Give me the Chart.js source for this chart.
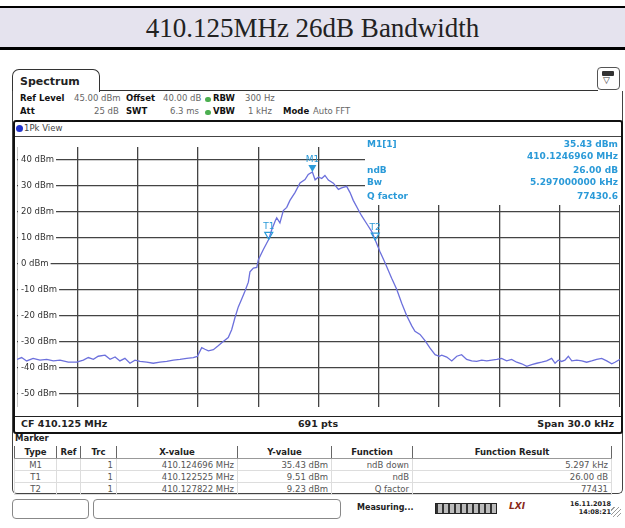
<!DOCTYPE html>
<html>
<head>
<meta charset="utf-8">
<script src="https://cdn.jsdelivr.net/npm/chart.js@4.4.0/dist/chart.umd.min.js"></script>
<style>
  body { margin: 0; width: 625px; height: 528px; background: #fff; position: relative; overflow: hidden; font-family: "DejaVu Sans", sans-serif; color: #222; }
  .abs { position: absolute; white-space: nowrap; }
  .hdr { font-size: 8.5px; color: #666; }
  .hdr b { color: #111; }
  .dot { position: absolute; width: 6px; height: 5px; border-radius: 3px; background: #4caf50; }
  #mk { position: absolute; left: 14px; top: 446px; border-collapse: collapse; font-size: 8.5px; table-layout: fixed; }
  #mk th { font-weight: bold; color: #222; height: 12px; padding: 0 3px; border-left: 1px solid #666; border-right: 1px solid #666; border-bottom: 1px solid #999; }
  #mk td { color: #555; height: 11px; padding: 0 3px; text-align: right; border: 1px solid #ddd; }
  #mk td.c { text-align: center; }
</style>
</head>
<body>
<!-- title band -->
<div class="abs" style="left:0;top:6px;width:625px;height:39px;background:#e5e3ee;border-top:2px solid #000;border-bottom:3px solid #000;"></div>
<div class="abs" style="left:0;top:8px;width:625px;text-align:center;font-family:'Liberation Serif',serif;font-size:27px;line-height:40px;">410.125MHz 26dB Bandwidth</div>

<!-- spectrum window -->
<div class="abs" style="left:12px;top:69px;width:86px;height:22px;border:1.5px solid #333;border-bottom:none;border-radius:7px 7px 0 0;"></div>
<div class="abs" style="left:20px;top:75px;font-size:11px;font-weight:bold;">Spectrum</div>
<div class="abs" style="left:99px;top:90px;width:499px;height:0;border-top:1.5px solid #333;"></div>
<div class="abs" style="left:597px;top:67px;width:21px;height:21px;border:1.5px solid #555;border-radius:4px;"></div>
<div class="abs" style="left:602px;top:71px;width:12px;height:5px;background:#333;border-radius:1px;"></div>
<div class="abs" style="left:603px;top:75px;font-size:9px;color:#333;">▽</div>
<div class="abs" style="left:12px;top:91px;width:609px;height:402px;border:1px solid #444;border-top:none;border-radius:0 0 5px 5px;"></div>

<div class="abs hdr" style="left:20px;top:93px;"><b>Ref Level</b></div>
<div class="abs hdr" style="left:74px;top:93px;">45.00 dBm</div>
<div class="abs hdr" style="left:126px;top:93px;"><b>Offset</b></div>
<div class="abs hdr" style="left:163px;top:93px;">40.00 dB</div>
<div class="dot" style="left:205px;top:97px;"></div>
<div class="abs hdr" style="left:213px;top:93px;"><b>RBW</b></div>
<div class="abs hdr" style="left:245px;top:93px;">300 Hz</div>
<div class="abs hdr" style="left:20px;top:106px;"><b>Att</b></div>
<div class="abs hdr" style="left:94px;top:106px;">25 dB</div>
<div class="abs hdr" style="left:126px;top:106px;"><b>SWT</b></div>
<div class="abs hdr" style="left:170px;top:106px;">6.3 ms</div>
<div class="dot" style="left:205px;top:110px;"></div>
<div class="abs hdr" style="left:213px;top:106px;"><b>VBW</b></div>
<div class="abs hdr" style="left:248px;top:106px;">1 kHz</div>
<div class="abs hdr" style="left:283px;top:106px;"><b>Mode</b></div>
<div class="abs hdr" style="left:313px;top:106px;">Auto FFT</div>

<!-- 1Pk View box -->
<div class="abs" style="left:13px;top:120px;width:606px;height:310px;border:2px solid #111;border-radius:3px;"></div>
<div class="abs" style="left:15px;top:136px;width:606px;height:0;border-top:1px solid #444;"></div>
<div class="abs" style="left:16px;top:125px;width:7px;height:7px;border-radius:4px;background:#2233cc;"></div>
<div class="abs hdr" style="left:24px;top:123px;color:#444;">1Pk View</div>

<div class="abs" style="left:17px;top:138px;width:603px;height:278px;">
  <canvas id="spec" width="603" height="278"></canvas>
</div>

<div class="abs" style="left:15px;top:416px;width:606px;height:0;border-top:1.5px solid #222;"></div>
<div class="abs" style="left:21px;top:418px;font-size:9.5px;font-weight:bold;">CF 410.125 MHz</div>
<div class="abs" style="left:318px;top:418px;font-size:9.5px;font-weight:bold;transform:translateX(-50%);">691 pts</div>
<div class="abs" style="right:11px;top:418px;font-size:9.5px;font-weight:bold;">Span 30.0 kHz</div>

<!-- marker table -->
<div class="abs" style="left:15px;top:433px;font-size:8.5px;font-weight:bold;">Marker</div>
<table id="mk">
  <colgroup><col style="width:42px"><col style="width:24px"><col style="width:36px"><col style="width:121px"><col style="width:94px"><col style="width:81px"><col style="width:199px"></colgroup>
  <tr><th>Type</th><th>Ref</th><th>Trc</th><th>X-value</th><th>Y-value</th><th>Function</th><th>Function Result</th></tr>
</table>

<!-- status bar -->
<div class="abs" style="left:12px;top:499px;width:75px;height:18px;border:1px solid #888;border-radius:4px;"></div>
<div class="abs" style="left:93px;top:499px;width:246px;height:18px;border:1px solid #888;border-radius:4px;"></div>
<div class="abs" style="left:357px;top:503px;font-size:8px;font-weight:bold;">Measuring...</div>
<div class="abs" style="left:435px;top:503px;width:60px;height:9px;background:repeating-linear-gradient(90deg,#333 0 2px,#bbb 2px 6px);border:1px solid #222;"></div>
<div class="abs" style="left:509px;top:501px;font-size:9px;font-weight:bold;font-style:italic;color:#8a2a1a;">LXI</div>
<div class="abs" style="right:14px;top:500px;font-size:6.5px;font-weight:bold;text-align:right;line-height:8px;">16.11.2018<br>14:08:21</div>
<div class="abs" style="left:611px;top:507px;width:10px;height:10px;background:repeating-linear-gradient(135deg,#fff 0 2px,#999 2px 3px);"></div>

<script>
// trace: offset from CF 410.125 MHz (kHz) and level (dBm)
const freqKHz = [
  -15.00, -14.77, -14.52, -14.20, -13.86, -13.52, -13.19, -12.86, -12.45, -12.03,
  -11.70, -11.45, -11.20, -10.96, -10.62, -10.37, -10.12, -9.88, -9.63, -9.38,
  -9.13, -8.88, -8.55, -8.22, -7.89, -7.55, -7.22, -6.89, -6.56, -6.23,
  -6.03, -5.81, -5.65, -5.48, -5.23, -4.99, -4.74, -4.49, -4.32, -4.15,
  -3.99, -3.82, -3.66, -3.49, -3.41, -3.24, -3.07, -2.99, -2.75, -2.475,
  -2.33, -2.16, -2.08, -1.92, -1.75, -1.58, -1.42, -1.17, -0.92, -0.67,
  -0.51, -0.304, -0.17, 0.00, 0.16, 0.32, 0.49, 0.74, 0.99, 1.15,
  1.40, 1.57, 1.73, 1.98, 2.15, 2.40, 2.65, 2.822, 3.06, 3.31,
  3.64, 3.89, 4.14, 4.39, 4.64, 4.80, 5.05, 5.30, 5.55, 5.80,
  6.01, 6.13, 6.38, 6.63, 6.88, 7.12, 7.37, 7.62, 7.87, 8.12,
  8.37, 8.62, 8.87, 9.11, 9.36, 9.61, 9.86, 10.11, 10.36, 10.61,
  10.86, 11.10, 11.35, 11.60, 11.77, 11.93, 12.10, 12.26, 12.43, 12.60,
  12.85, 13.10, 13.34, 13.59, 13.84, 14.09, 14.34, 14.59, 14.75, 15.00
];
const levelDbm = [
  -36.7, -36.0, -37.3, -36.3, -37.0, -36.7, -37.3, -37.0, -37.8, -37.8,
  -37.0, -36.0, -36.7, -35.5, -35.1, -36.7, -35.8, -37.3, -36.3, -38.2,
  -37.0, -37.5, -37.8, -38.2, -37.8, -37.5, -37.0, -36.7, -36.3, -36.0,
  -35.6, -32.2, -32.8, -33.4, -33.0, -31.5, -29.8, -28.3, -25.3, -20.5,
  -16.5, -13.5, -10.5, -7.0, -3.0, -1.6, -1.3, 1.7, 5.5, 9.51,
  13.1, 16.5, 17.8, 15.8, 20.6, 21.8, 24.5, 27.5, 31.2, 32.5,
  34.5, 35.43, 32.4, 33.5, 32.9, 34.1, 32.3, 31.1, 28.7, 29.3,
  29.9, 27.5, 24.5, 20.9, 18.5, 15.5, 12.5, 9.23, 4.7, 0.5,
  -5.5, -9.7, -15.1, -19.9, -23.8, -25.9, -27.1, -29.5, -32.4, -34.9,
  -35.5, -35.1, -35.8, -37.3, -35.5, -34.9, -36.7, -37.3, -37.5, -37.0,
  -37.3, -37.0, -36.7, -36.3, -37.3, -36.7, -37.8, -38.4, -39.4, -38.7,
  -38.2, -37.8, -37.3, -36.3, -38.2, -37.0, -37.5, -37.0, -35.5, -37.3,
  -37.0, -37.3, -37.8, -37.3, -36.7, -36.3, -37.3, -38.4, -37.8, -36.7
];
const yTicks = [40, 30, 20, 10, 0, -10, -20, -30, -40, -50];
const centerMHz = 410.125;

const markerNames = ['M1', 'T1', 'T2'];
const markerKHz = [-0.304, -2.475, 2.822];
const markerLevel = [35.43, 9.51, 9.23];
const markerFunc = ['ndB down', 'ndB', 'Q factor'];
const markerResult = ['5.297 kHz', '26.00 dB', '77431'];

const readoutLabels = ['M1[1]', '', 'ndB', 'Bw', 'Q factor'];
const readoutValues = ['35.43 dBm', '410.1246960 MHz', '26.00 dB', '5.297000000 kHz', '77430.6'];

// marker table
const tbl = document.getElementById('mk');
markerNames.forEach((name, i) => {
  const tr = document.createElement('tr');
  tr.innerHTML = `<td class="c">${name}</td><td></td><td>1</td>` +
    `<td>${(centerMHz + markerKHz[i] / 1000).toFixed(6)} MHz</td>` +
    `<td>${markerLevel[i].toFixed(2)} dBm</td><td>${markerFunc[i]}</td><td>${markerResult[i]}</td>`;
  tbl.appendChild(tr);
});

const markerBlue = '#2a9ad8';

// white readout box with marker results, top right of the diagram
const readoutPlugin = {
  id: 'readout',
  beforeDatasetsDraw(chart) {
    const ctx = chart.ctx;
    ctx.save();
    ctx.fillStyle = '#fff';
    ctx.fillRect(348, 0, 256, 67);
    ctx.fillStyle = markerBlue;
    ctx.font = 'bold 9px "DejaVu Sans"';
    ctx.textBaseline = 'middle';
    const rows = [7, 19, 33, 45, 59];
    readoutLabels.forEach((t, i) => {
      ctx.textAlign = 'left';
      ctx.fillText(t, 350, rows[i]);
      ctx.textAlign = 'right';
      ctx.fillText(readoutValues[i], 601, rows[i]);
    });
    ctx.restore();
  }
};

// marker triangles and names drawn at the trace points
const markerPlugin = {
  id: 'markers',
  afterDatasetsDraw(chart) {
    const ctx = chart.ctx;
    const xs = chart.scales.x, ys = chart.scales.y;
    ctx.save();
    markerNames.forEach((name, i) => {
      const px = xs.getPixelForValue(markerKHz[i]);
      const py = ys.getPixelForValue(markerLevel[i]);
      ctx.beginPath();
      ctx.moveTo(px - 4, py - 7);
      ctx.lineTo(px + 4, py - 7);
      ctx.lineTo(px, py);
      ctx.closePath();
      ctx.fillStyle = markerBlue;
      ctx.strokeStyle = markerBlue;
      ctx.lineWidth = 1.2;
      if (i === 0) ctx.fill(); else ctx.stroke();
      ctx.font = '9px "DejaVu Sans"';
      ctx.textAlign = 'center';
      ctx.textBaseline = 'bottom';
      ctx.fillText(name, px, py - 8);
    });
    ctx.restore();
  }
};

new Chart(document.getElementById('spec'), {
  type: 'line',
  data: {
    datasets: [{
      data: freqKHz.map((f, i) => ({ x: f, y: levelDbm[i] })),
      borderColor: '#6c70dc',
      borderWidth: 1.3,
      pointRadius: 0,
      tension: 0
    }]
  },
  options: {
    responsive: false,
    animation: false,
    layout: { padding: 0 },
    plugins: { legend: { display: false }, tooltip: { enabled: false } },
    scales: {
      x: {
        type: 'linear',
        min: -15,
        max: 15,
        ticks: { display: false, stepSize: 3 },
        grid: { color: '#444', lineWidth: 1.3, drawTicks: false },
        border: { display: false },
        afterFit: s => { s.height = 0; }
      },
      y: {
        min: -55,
        max: 45,
        afterBuildTicks: s => { s.ticks = yTicks.map(v => ({ value: v })); },
        ticks: {
          mirror: true,
          padding: 4,
          color: '#333',
          font: { family: 'DejaVu Sans', size: 8.5 },
          callback: v => v + ' dBm',
          showLabelBackdrop: true,
          backdropColor: '#fff',
          backdropPadding: { left: 3, right: 2, top: 1, bottom: 1 }
        },
        grid: { color: '#444', lineWidth: 1.3, drawTicks: false },
        border: { display: false },
        afterFit: s => { s.width = 0; }
      }
    }
  },
  plugins: [readoutPlugin, markerPlugin]
});
</script>
</body>
</html>
